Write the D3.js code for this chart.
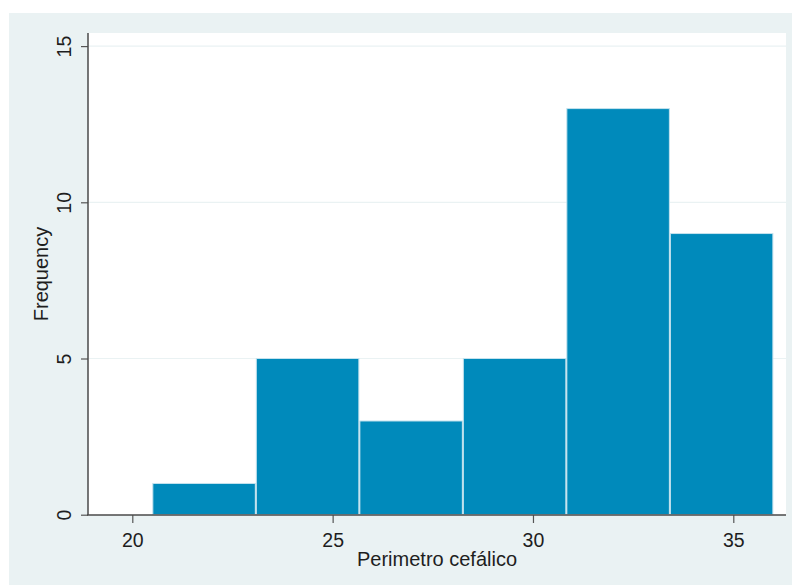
<!DOCTYPE html>
<html>
<head>
<meta charset="utf-8">
<script src="https://cdn.jsdelivr.net/npm/d3@7"></script>
<style>
  html, body { margin: 0; padding: 0; background: #ffffff; }
  svg { display: block; }
  text { font-family: "Liberation Sans", Arial, sans-serif; fill: #1e1e1e; }
</style>
</head>
<body>
<svg id="chart" width="792" height="585"></svg>
<script>
// Histogram of head circumference: bin edges and counts per bin
const binEdges = [20.5, 23.083, 25.667, 28.25, 30.833, 33.417, 36];
const binCounts = [1, 5, 3, 5, 13, 9];
const xTicks = [20, 25, 30, 35];
const yTicks = [0, 5, 10, 15];
const xTitle = "Perimetro cefálico";
const yTitle = "Frequency";

const svg = d3.select("#chart");

// Graph region and plot region
const plot = { left: 88, right: 786, top: 33, bottom: 515 };

svg.append("rect")
  .attr("x", 9).attr("y", 13)
  .attr("width", 792 - 9).attr("height", 585 - 13)
  .attr("fill", "#eaf2f3");

svg.append("rect")
  .attr("x", plot.left).attr("y", plot.top)
  .attr("width", plot.right - plot.left).attr("height", plot.bottom - plot.top)
  .attr("fill", "#ffffff");

const x = d3.scaleLinear().domain([20, 35]).range([132.3, 733.3]);
const y = d3.scaleLinear().domain([0, 15]).range([514.7, 46.1]);

// Horizontal grid lines
svg.append("g")
  .selectAll("line")
  .data(yTicks.filter(d => d > 0))
  .join("line")
  .attr("x1", plot.left).attr("x2", plot.right)
  .attr("y1", d => y(d)).attr("y2", d => y(d))
  .attr("stroke", "#eaf2f3").attr("stroke-width", 1.2);

// Bars
const bins = binCounts.map((c, i) => ({ x0: binEdges[i], x1: binEdges[i + 1], count: c }));
svg.append("g")
  .selectAll("rect")
  .data(bins)
  .join("rect")
  .attr("x", d => x(d.x0) + 0.5)
  .attr("y", d => y(d.count))
  .attr("width", d => x(d.x1) - x(d.x0) - 1)
  .attr("height", d => y(0) - y(d.count))
  .attr("fill", "#008abb")
  .attr("stroke", "#c4e2ee")
  .attr("stroke-width", 1);

// Y axis
const yAxis = d3.axisLeft(y).tickValues(yTicks).tickSize(7).tickFormat(d3.format("d"));
const gy = svg.append("g")
  .attr("transform", `translate(${plot.left},0)`)
  .call(yAxis);
gy.select(".domain").remove();
gy.append("line")
  .attr("x1", 0).attr("x2", 0)
  .attr("y1", plot.top).attr("y2", plot.bottom)
  .attr("stroke", "#4a4a4a").attr("stroke-width", 1.5);
gy.selectAll(".tick line").attr("stroke", "#555").attr("stroke-width", 1.2);
gy.selectAll(".tick text")
  .attr("x", null).attr("dy", null)
  .attr("transform", "translate(-17,0) rotate(-90)")
  .attr("text-anchor", "middle")
  .attr("font-size", 19.5)
  .attr("fill", "#1e1e1e")
  .style("font-family", "'Liberation Sans', Arial, sans-serif");

// X axis
const xAxis = d3.axisBottom(x).tickValues(xTicks).tickSize(8).tickFormat(d3.format("d"));
const gx = svg.append("g")
  .attr("transform", `translate(0,${plot.bottom})`)
  .call(xAxis);
gx.select(".domain").remove();
gx.append("line")
  .attr("x1", plot.left - 1).attr("x2", plot.right)
  .attr("y1", 0).attr("y2", 0)
  .attr("stroke", "#4a4a4a").attr("stroke-width", 1.5);
gx.selectAll(".tick line").attr("stroke", "#555").attr("stroke-width", 1.2);
gx.selectAll(".tick text")
  .attr("y", 31.5).attr("dy", null)
  .attr("font-size", 19.5)
  .attr("fill", "#1e1e1e")
  .style("font-family", "'Liberation Sans', Arial, sans-serif");

// Axis titles
svg.append("text")
  .attr("x", (plot.left + plot.right) / 2)
  .attr("y", 566)
  .attr("text-anchor", "middle")
  .attr("font-size", 20)
  .text(xTitle);

svg.append("text")
  .attr("transform", `translate(48,${(plot.top + plot.bottom) / 2}) rotate(-90)`)
  .attr("text-anchor", "middle")
  .attr("font-size", 20)
  .text(yTitle);
</script>
</body>
</html>
